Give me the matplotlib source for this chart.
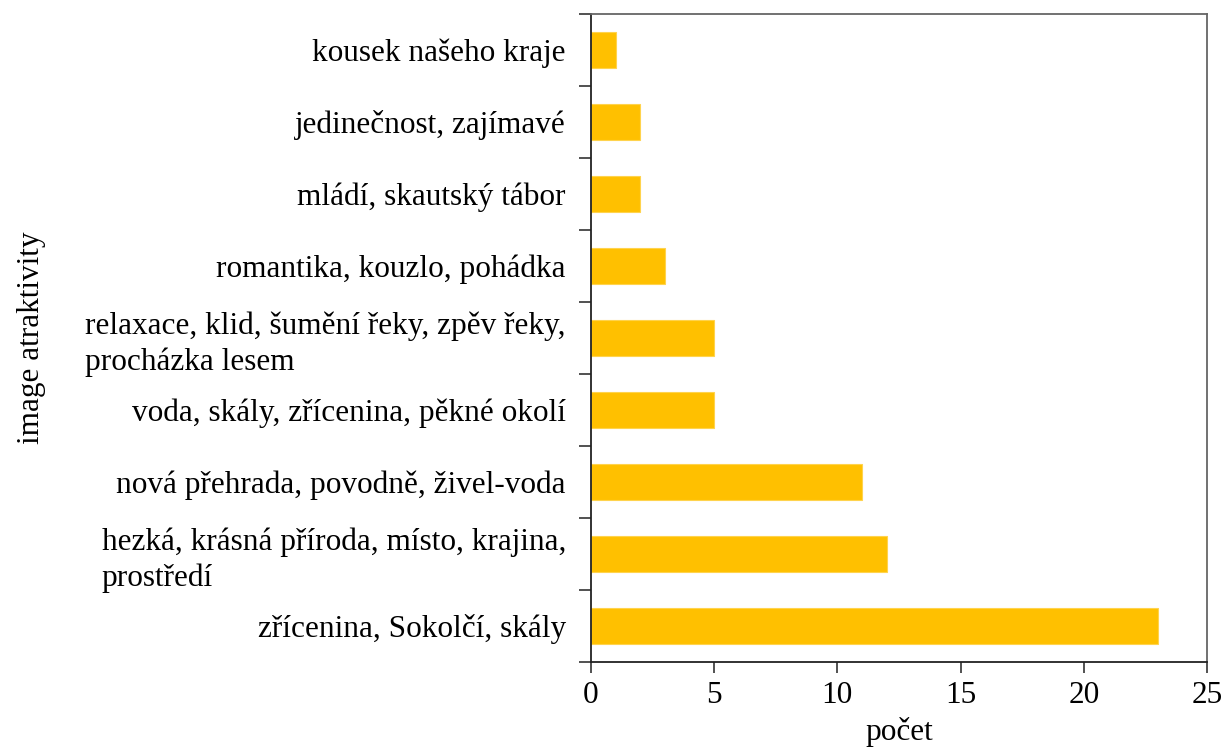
import numpy as np
import matplotlib.pyplot as plt
from matplotlib.ticker import FixedLocator

# Data (bottom to top)
labels = [
    "zřícenina, Sokolčí, skály",
    "hezká, krásná příroda, místo, krajina,\nprostředí",
    "nová přehrada, povodně, živel-voda",
    "voda, skály, zřícenina, pěkné okolí",
    "relaxace, klid, šumění řeky, zpěv řeky,\nprocházka lesem",
    "romantika, kouzlo, pohádka",
    "mládí, skautský tábor",
    "jedinečnost, zajímavé",
    "kousek našeho kraje",
]
counts = [23, 12, 11, 5, 5, 3, 2, 2, 1]
xticks = [0, 5, 10, 15, 20, 25]

plt.rcParams['font.family'] = ['Liberation Serif', 'DejaVu Serif']
fs = 22.5

fig = plt.figure(figsize=(12.25, 7.47), dpi=100)
ax = fig.add_axes([0.4824, 0.1138, 0.9853 - 0.4824, 0.9813 - 0.1138])

y = np.arange(len(labels))
ax.barh(y, counts, height=0.5, color='#FFC000', edgecolor='#FFD34D', linewidth=0.8)

ax.set_xlim(0, 25)
ax.set_ylim(-0.5, len(labels) - 0.5)
ax.set_xticks(xticks)
ax.set_yticks(y)
ax.set_yticklabels(labels, fontsize=fs, linespacing=1.25, multialignment='left')
ax.yaxis.set_minor_locator(FixedLocator(np.arange(-0.5, len(labels), 1)))
ax.tick_params(axis='y', which='major', length=0, pad=18)
ax.tick_params(axis='y', which='minor', length=9, width=1.2, color='#333333')
ax.tick_params(axis='x', length=8, width=1.2, color='#333333', labelsize=fs, pad=6)

for s in ['left', 'bottom']:
    ax.spines[s].set_color('#222222')
    ax.spines[s].set_linewidth(1.3)
for s in ['top', 'right']:
    ax.spines[s].set_color('#666666')
    ax.spines[s].set_linewidth(1.3)

ax.set_xlabel("počet", fontsize=fs, labelpad=5)
ax.set_ylabel("image atraktivity", fontsize=fs)
ax.yaxis.set_label_coords(-0.885, 0.5)

fig.savefig("out.png", dpi=100)
